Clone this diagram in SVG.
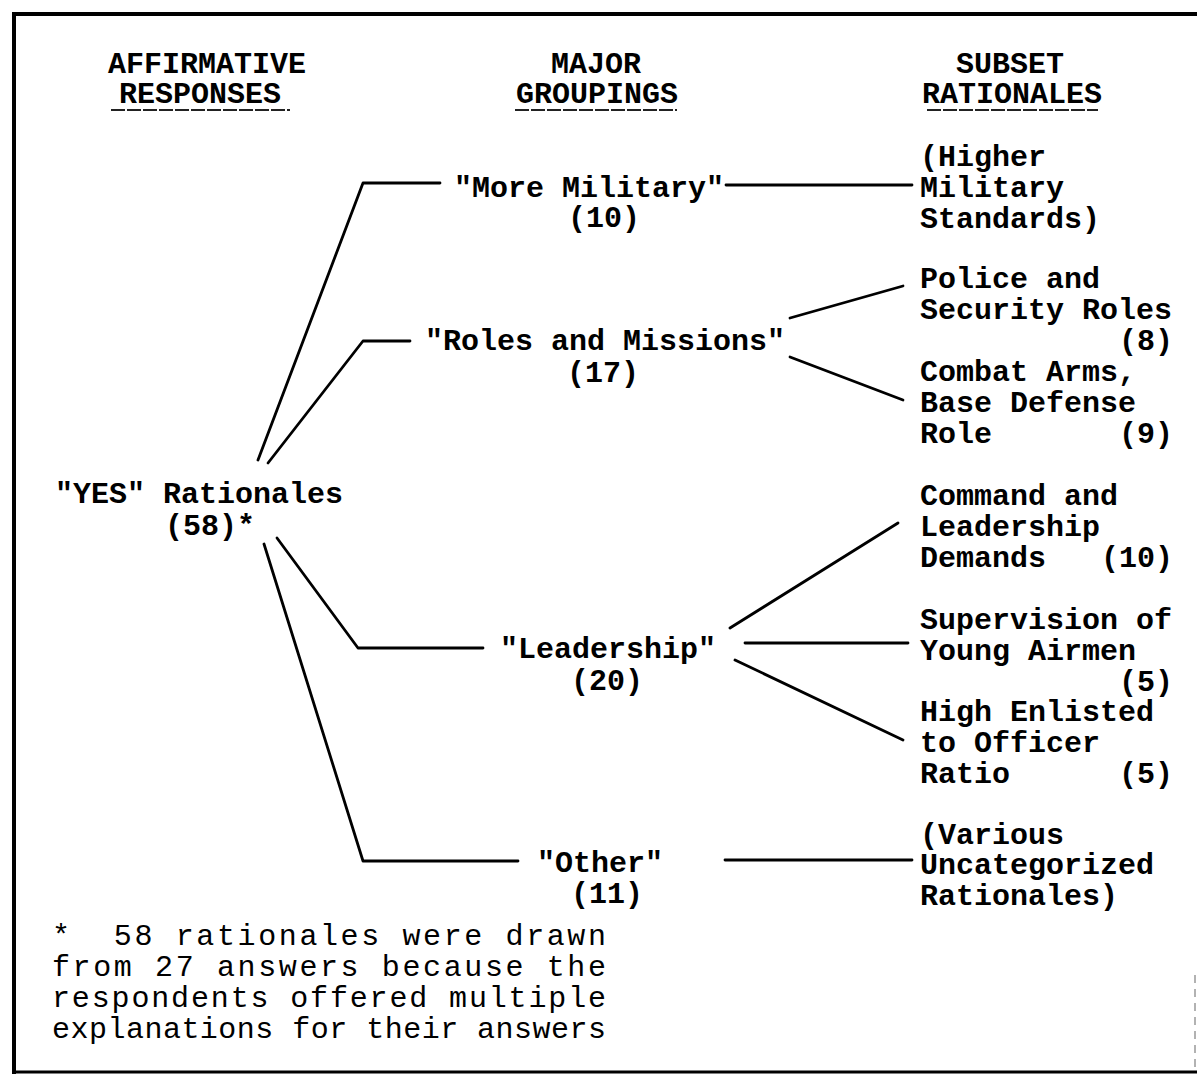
<svg xmlns="http://www.w3.org/2000/svg" width="1197" height="1089" viewBox="0 0 1197 1089">
<style>
text{font-family:"Liberation Mono","Courier New",monospace;font-size:30px;fill:#000;font-weight:bold;white-space:pre}
.c{text-anchor:middle}
.fn{font-weight:normal}
.ln{stroke:#000;stroke-width:2.8;fill:none;stroke-linecap:round;stroke-linejoin:round}
.ul{stroke:#222;stroke-width:2;stroke-dasharray:14 2}
</style>
<rect width="1197" height="1089" fill="#fff"/>
<g id="frame">
<line x1="12" y1="14" x2="1197" y2="14" stroke="#000" stroke-width="4"/>
<line x1="14" y1="12" x2="14" y2="1074" stroke="#000" stroke-width="4"/>
<line x1="12" y1="1072" x2="1197" y2="1072" stroke="#000" stroke-width="3"/>
<line x1="1195" y1="975" x2="1195" y2="1070" stroke="#999" stroke-width="1.5" stroke-dasharray="8 6"/>
</g>
<g id="headers">
<text class="c" x="207" y="73">AFFIRMATIVE</text>
<text class="c" x="200" y="103">RESPONSES</text>
<line class="ul" x1="111" y1="110" x2="290" y2="110"/>
<text class="c" x="596" y="73">MAJOR</text>
<text class="c" x="597" y="103">GROUPINGS</text>
<line class="ul" x1="515" y1="110" x2="677" y2="110"/>
<text class="c" x="1010" y="73">SUBSET</text>
<text class="c" x="1012" y="103">RATIONALES</text>
<line class="ul" x1="927" y1="110" x2="1098" y2="110"/>
</g>
<g id="connectors">
<polyline class="ln" points="258,460 363,183 440,183"/>
<polyline class="ln" points="268,463 363,341 410,341"/>
<polyline class="ln" points="277,538 358,648 483,648"/>
<polyline class="ln" points="264,544 363,861 518,861"/>
<line class="ln" x1="726" y1="185" x2="912" y2="185"/>
<line class="ln" x1="790" y1="318" x2="903" y2="286"/>
<line class="ln" x1="790" y1="357" x2="903" y2="400"/>
<line class="ln" x1="730" y1="628" x2="898" y2="523"/>
<line class="ln" x1="745" y1="643" x2="908" y2="643"/>
<line class="ln" x1="735" y1="660" x2="903" y2="740"/>
<line class="ln" x1="725" y1="860" x2="912" y2="860"/>
</g>
<g id="yes">
<text x="55" y="503">"YES" Rationales</text>
<text x="165" y="535">(58)*</text>
</g>
<g id="more-military">
<text x="454" y="197">"More Military"</text>
<text class="c" x="604" y="227">(10)</text>
</g>
<g id="roles-missions">
<text x="425" y="350">"Roles and Missions"</text>
<text class="c" x="603" y="382">(17)</text>
</g>
<g id="leadership">
<text x="500" y="658">"Leadership"</text>
<text class="c" x="607" y="690">(20)</text>
</g>
<g id="other">
<text x="537" y="872">"Other"</text>
<text class="c" x="607" y="903">(11)</text>
</g>
<g id="higher-standards">
<text x="920" y="166">(Higher</text>
<text x="920" y="197">Military</text>
<text x="920" y="228">Standards)</text>
</g>
<g id="police-security">
<text x="920" y="288">Police and</text>
<text x="920" y="319">Security Roles</text>
<text x="1119" y="350">(8)</text>
</g>
<g id="combat-arms">
<text x="920" y="381">Combat Arms,</text>
<text x="920" y="412">Base Defense</text>
<text x="920" y="443">Role</text>
<text x="1119" y="443">(9)</text>
</g>
<g id="command-leadership">
<text x="920" y="505">Command and</text>
<text x="920" y="536">Leadership</text>
<text x="920" y="567">Demands</text>
<text x="1101" y="567">(10)</text>
</g>
<g id="supervision">
<text x="920" y="629">Supervision of</text>
<text x="920" y="660">Young Airmen</text>
<text x="1119" y="691">(5)</text>
</g>
<g id="enlisted-ratio">
<text x="920" y="721">High Enlisted</text>
<text x="920" y="752">to Officer</text>
<text x="920" y="783">Ratio</text>
<text x="1119" y="783">(5)</text>
</g>
<g id="various">
<text x="920" y="844">(Various</text>
<text x="920" y="874">Uncategorized</text>
<text x="920" y="905">Rationales)</text>
</g>
<g id="footnote">
<text class="fn" x="52" y="945" textLength="554" lengthAdjust="spacing">*  58 rationales were drawn</text>
<text class="fn" x="52" y="976" textLength="554" lengthAdjust="spacing">from 27 answers because the</text>
<text class="fn" x="52" y="1007" textLength="554" lengthAdjust="spacing">respondents offered multiple</text>
<text class="fn" x="52" y="1038" textLength="554" lengthAdjust="spacing">explanations for their answers</text>
</g>
</svg>
